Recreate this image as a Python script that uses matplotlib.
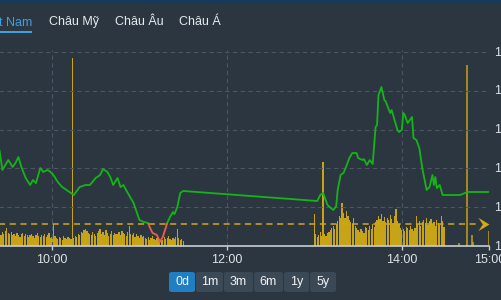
import numpy as np
import matplotlib
matplotlib.use('Agg')
from matplotlib import pyplot as plt
from matplotlib.patches import FancyBboxPatch, Rectangle

plt.rcParams['font.family'] = ['Liberation Sans', 'DejaVu Sans']

# ---- data ----
tabs = ['Việt Nam', 'Châu Mỹ', 'Châu Âu', 'Châu Á']
periods = ['0d', '1m', '3m', '6m', '1y', '5y']
x_ticks = ['10:00', '12:00', '14:00', '15:00']
y_ticks = [1200, 1205, 1210, 1215, 1220, 1225]
ref_price = 1202.84

price_times = ['09:18', '09:21', '09:24', '09:26', '09:30', '09:33', '09:35', '09:37', '09:39',
               '09:42', '09:45', '09:47', '09:49', '09:52', '09:54', '09:57', '09:59', '10:01',
               '10:04', '10:07', '10:10', '10:12', '10:15', '10:19', '10:23', '10:26', '10:30',
               '10:33', '10:35', '10:38', '10:40', '10:42', '10:45', '10:47', '10:49', '10:52',
               '10:56', '11:00', '11:03', '11:06', '11:07', '11:09', '11:12', '11:14', '11:16',
               '11:18', '11:19', '11:21', '11:23', '11:24', '11:26', '11:28', '11:30',
               '13:02', '13:04', '13:06', '13:09', '13:13', '13:15', '13:16', '13:18', '13:20',
               '13:22', '13:24', '13:26', '13:29', '13:30', '13:33', '13:34', '13:36', '13:38',
               '13:40', '13:42', '13:43', '13:44', '13:46', '13:48', '13:49', '13:52', '13:53',
               '13:54', '13:57', '13:58', '14:00', '14:01', '14:02', '14:04', '14:07', '14:08',
               '14:10', '14:12', '14:14', '14:17', '14:19', '14:21', '14:22', '14:23', '14:24',
               '14:26', '14:28', '14:30', '14:40', '14:45', '15:00']
price_vals = [1211.5, 1212.0, 1212.37, 1209.79, 1211.08, 1210.18, 1210.7, 1211.47, 1210.18,
              1208.76, 1207.86, 1208.51, 1208.1, 1210.05, 1209.54, 1209.8, 1209.54, 1209.15,
              1208.25, 1207.6, 1207.22, 1206.96, 1206.57, 1207.6, 1207.86, 1207.86, 1208.76,
              1209.15, 1209.92, 1209.54, 1208.89, 1207.86, 1208.76, 1207.6, 1207.86, 1206.83,
              1205.54, 1203.35, 1203.09, 1202.96, 1202.45, 1201.68, 1201.42, 1200.52, 1201.16,
              1202.32, 1202.96, 1203.74, 1204.38, 1204.1, 1205.03, 1206.83, 1207.09,
              1205.8, 1206.57, 1206.83, 1205.28, 1204.64, 1205.15, 1207.22, 1209.15, 1209.41,
              1210.31, 1211.34, 1211.98, 1211.98, 1211.34, 1211.08, 1211.2, 1210.44, 1211.08,
              1210.57, 1215.34, 1215.59, 1219.46, 1220.49, 1218.82, 1218.6, 1217.14, 1217.53,
              1216.88, 1214.95, 1214.69, 1214.95, 1217.14, 1216.88, 1215.85, 1216.62, 1213.92,
              1213.66, 1212.63, 1210.05, 1207.22, 1207.6, 1209.15, 1207.86, 1208.89, 1207.47,
              1207.86, 1206.57, 1206.57, 1206.57, 1206.96, 1206.96]

# volume per minute (10k shares), morning from 09:15, afternoon from 13:00
morning_vol = [20, 15, 14, 12, 13, 11, 12, 14, 12,
               13, 11, 14, 12, 15, 18, 13, 12, 14, 11,
               12, 10, 13, 11, 9, 12, 13, 10, 12, 11,
               9, 11, 12, 10, 8, 11, 13, 10, 9, 11,
               10, 12, 9, 11, 13, 8, 9, 22, 10, 8,
               7, 9, 8, 6, 10, 8, 7, 9, 8, 7,
               188,
               8, 10, 9, 12, 11, 14, 13, 16, 17, 15,
               13, 12, 11, 14, 12, 10, 13, 15, 17, 12,
               14, 11, 16, 13, 10, 12, 15, 11, 13, 12,
               12, 14, 11, 15, 13, 12, 10, 14, 20, 12,
               11, 13, 9, 12, 10, 8, 11, 9, 10, 8,
               7, 9, 6, 8, 10, 7, 6, 8, 9, 7,
               8, 6, 9, 7, 8, 10, 7, 6, 8, 7,
               9, 17, 8, 6, 7, 5]
afternoon_vol = [32, 12, 9, 11, 14, 10, 84, 12, 10, 13,
                 14, 16, 18, 20, 17, 22, 25, 30, 28, 43,
                 33, 28, 35, 30, 26, 24, 22, 28, 20, 18,
                 16, 14, 17, 15, 13, 19, 18, 16, 20, 17,
                 22, 19, 24, 26, 30, 27, 32, 25, 29, 24,
                 28, 26, 31, 27, 23, 30, 37, 25, 22, 18,
                 16, 17, 15, 19, 18, 16, 20, 17, 15, 18,
                 30, 22, 25, 20, 24, 26, 23, 28, 21, 25,
                 27, 22, 24, 20, 26, 23, 21, 30, 25, 19]
late_times = ['14:39', '14:45', '14:48', '14:49', '15:00']
late_vol = [3, 181, 11, 4, 15]

VOL_COLOR = '#c6a317'


def to_min(t):
    h, m = t.split(':')
    return (int(h) - 9) * 60 + int(m)


W, H = 501, 300
BG = '#2b3640'
fig = plt.figure(figsize=(W / 100, H / 100), dpi=100, facecolor=BG)


def fx(px):
    return px / W


def fy(py):
    return 1 - py / H


# top strip
fig.add_artist(Rectangle((0, fy(3)), 1, 3 / H, transform=fig.transFigure,
                         facecolor='#17395a', edgecolor='none'))

# tabs
tab_x = [32, 49, 115, 179]
for i, (name, x) in enumerate(zip(tabs, tab_x)):
    if i == 0:
        fig.text(fx(x), fy(22), name, color='#3f9fe0', fontsize=9, ha='right', va='center')
    else:
        fig.text(fx(x), fy(22), name, color='#e6eaee', fontsize=9, ha='left', va='center')
fig.add_artist(Rectangle((0, fy(33)), fx(32), 2 / H, transform=fig.transFigure,
                         facecolor='#3f9fe0', edgecolor='none'))

# main axes: 09:00 .. 15:00
px0, px1 = -35.5, 489.3
ax = fig.add_axes([fx(px0), fy(246), fx(px1 - px0), 196 / H])
ax.set_facecolor('none')
ax.set_xlim(0, 360)
ax.set_ylim(1200, 1225.26)

axv = ax.twinx()
axv.set_ylim(0, 196)
axv.set_zorder(1)
ax.set_zorder(2)
ax.patch.set_visible(False)

# volume bars
mv_x = np.arange(len(morning_vol)) + 15
av_x = np.arange(len(afternoon_vol)) + 240
vx = np.concatenate([mv_x, av_x])
vy = np.concatenate([morning_vol, afternoon_vol])
axv.bar(vx, vy, width=0.85, color=VOL_COLOR, linewidth=0, align='center',
        antialiased=False)
lv_x = [to_min(t) for t in late_times]
axv.vlines(lv_x, 0, late_vol, colors=VOL_COLOR, linewidth=1.1)
axv.axis('off')

# grid
gcol = '#4b5662'
for v in y_ticks[1:]:
    ax.axhline(v, color=gcol, lw=0.8, ls=(0, (4, 3)), zorder=0)
for t in x_ticks:
    ax.axvline(to_min(t), color=gcol, lw=0.8, ls=(0, (4, 3)), zorder=0)

# reference line and arrow
ax.plot([0, 352], [ref_price, ref_price], color='#d6a812', lw=1.1, ls=(0, (4, 3)))
arrow = [(0, 0), (-10, 6), (-6, 0), (-10, -6)]
ax.plot([to_min('15:00') - 0.5], [ref_price], marker=arrow, markersize=16,
        color='#d6a812', markeredgewidth=0, clip_on=False)

# price line, green above reference, red below
px = np.array([to_min(t) for t in price_times], dtype=float)
py = np.array(price_vals)
xs, ys = [px[0]], [py[0]]
for i in range(1, len(px)):
    a, b = py[i - 1] - ref_price, py[i] - ref_price
    if a * b < 0:
        t = a / (a - b)
        xs.append(px[i - 1] + t * (px[i] - px[i - 1]))
        ys.append(ref_price)
    xs.append(px[i])
    ys.append(py[i])
xs, ys = np.array(xs), np.array(ys)
green = np.where(ys >= ref_price - 1e-9, ys, np.nan)
red = np.where(ys <= ref_price + 1e-9, ys, np.nan)
ax.plot(xs, green, color='#15b418', lw=1.3, solid_joinstyle='round')
ax.plot(xs, red, color='#ee5f4c', lw=1.3, solid_joinstyle='round')

# axes styling
for s in ['top', 'left', 'right']:
    ax.spines[s].set_visible(False)
ax.spines['bottom'].set_color('#c9ced3')
ax.spines['bottom'].set_linewidth(1.2)
ax.set_xticks([to_min(t) for t in x_ticks])
ax.set_xticklabels(x_ticks)
ax.tick_params(axis='x', colors='#c9ced3', length=3, width=1, labelsize=9, pad=3,
               labelcolor='#dfe3e7')
ax.set_yticks([])

# right-hand price labels, cut by the figure edge as in the source widget
lab_x = 1.0 + (494 - px1) / (px1 - px0)
for v in y_ticks:
    ax.text(lab_x, v, f'{v:,}', transform=ax.get_yaxis_transform(), color='#dfe3e7',
            fontsize=9, ha='left', va='center', clip_on=False)

# period buttons
btn_x = [169, 196, 224, 254, 284, 310]
btn_w = [26, 27, 29, 29, 25, 26]
for i, (lab, x, w) in enumerate(zip(periods, btn_x, btn_w)):
    col = '#1f7fc4' if i == 0 else '#3b4855'
    fig.add_artist(FancyBboxPatch((fx(x), fy(292)), fx(w), 20 / H,
                                  boxstyle='round,pad=0,rounding_size=0.006',
                                  transform=fig.transFigure, facecolor=col, edgecolor='none'))
    fig.text(fx(x + w / 2), fy(282), lab, color='#f2f4f6', fontsize=9, ha='center', va='center')

fig.savefig('out.png', dpi=100, facecolor=BG)
